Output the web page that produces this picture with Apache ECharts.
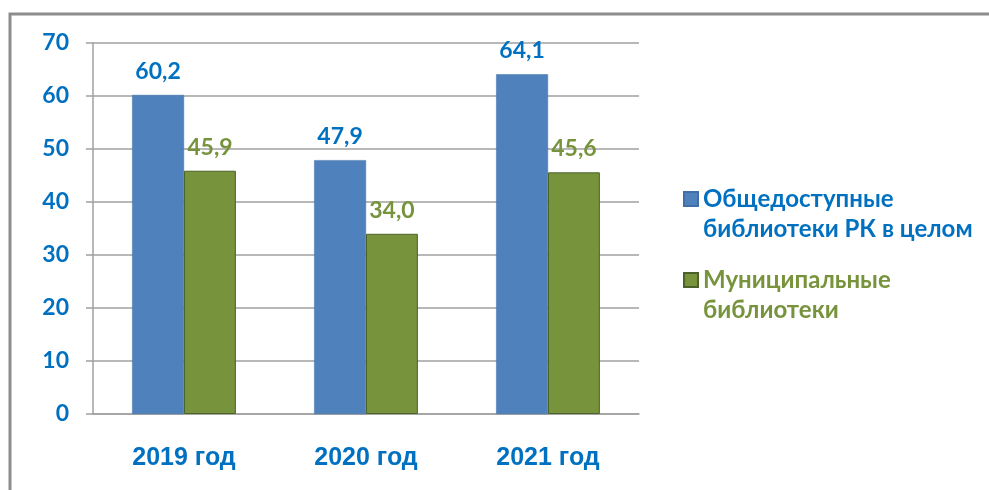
<!DOCTYPE html>
<html>
<head>
<meta charset="utf-8">
<script src="https://cdn.jsdelivr.net/npm/echarts@6/dist/echarts.min.js"></script>
<style>
  html, body { margin: 0; padding: 0; background: #fff; }
  #chart { width: 989px; height: 490px; }
</style>
</head>
<body>
<div id="chart"></div>
<script>
const categories = ['2019 год', '2020 год', '2021 год']
const publicLibs = [60.2, 47.9, 64.1]
const municipalLibs = [45.9, 34.0, 45.6]
const seriesNames = ['Общедоступные библиотеки РК в целом', 'Муниципальные библиотеки']
const legendLabels = ['Общедоступные\nбиблиотеки РК в целом', 'Муниципальные\nбиблиотеки']

const BLUE = '#4F81BD'
const GREEN = '#77933C'
const BLUE_TEXT = '#0070C0'
const GRAY = '#A0A0A0'
const LABEL_FONT = 'Lato, "Open Sans", sans-serif'

const fmt = (v) => v.toFixed(1).replace('.', ',')

const chart = echarts.init(document.getElementById('chart'))

// empty first line keeps the icon level with the first text line
const legendText = (color) => ({
  color,
  fontSize: 24,
  fontWeight: 'bold',
  fontFamily: LABEL_FONT,
  lineHeight: 30,
})

chart.setOption({
  animation: false,
  graphic: [{
    type: 'polyline',
    shape: { points: [[10, 490], [10, 14], [989, 14]] },
    style: { stroke: '#8C8C8C', lineWidth: 3, fill: null },
  }],
  grid: { left: 93, right: 350, top: 43, bottom: 76 },
  legend: [
    {
      orient: 'vertical', left: 683, top: 154, padding: 0,
      itemWidth: 14, itemHeight: 14, icon: 'rect',
      data: [seriesNames[0]],
      formatter: () => ' \n' + legendLabels[0],
      textStyle: legendText(BLUE_TEXT),
    },
    {
      orient: 'vertical', left: 683, top: 235, padding: 0,
      itemWidth: 14, itemHeight: 14, icon: 'rect',
      data: [seriesNames[1]],
      formatter: () => ' \n' + legendLabels[1],
      textStyle: legendText(GREEN),
    },
  ],
  xAxis: {
    type: 'category',
    data: categories,
    axisLine: { lineStyle: { color: GRAY, width: 1.5 } },
    axisTick: { length: 7, lineStyle: { color: GRAY, width: 1.5 } },
    axisLabel: {
      color: BLUE_TEXT,
      fontSize: 25,
      fontWeight: 'bold',
      fontFamily: '"Liberation Sans", Arial, sans-serif',
      margin: 32,
    },
  },
  yAxis: {
    type: 'value',
    min: 0,
    max: 70,
    interval: 10,
    axisLine: { show: true, lineStyle: { color: GRAY, width: 1.5 } },
    axisTick: { show: true, length: 7, lineStyle: { color: GRAY, width: 1.5 } },
    splitLine: { lineStyle: { color: GRAY, width: 1.5 } },
    axisLabel: {
      color: BLUE_TEXT,
      fontSize: 23,
      fontWeight: 'bold',
      fontFamily: LABEL_FONT,
      margin: 24,
    },
  },
  series: [
    {
      name: seriesNames[0],
      type: 'bar',
      data: publicLibs,
      barGap: '0%',
      barCategoryGap: '43%',
      itemStyle: { color: BLUE, borderColor: '#3F6FA8', borderWidth: 0.5 },
      label: {
        show: true,
        position: 'top',
        distance: 12,
        formatter: (p) => fmt(p.value),
        color: BLUE_TEXT,
        fontSize: 23,
        fontWeight: 'bold',
        fontFamily: LABEL_FONT,
      },
    },
    {
      name: seriesNames[1],
      type: 'bar',
      data: municipalLibs,
      itemStyle: { color: GREEN, borderColor: '#4A6328', borderWidth: 1 },
      label: {
        show: true,
        position: 'top',
        distance: 12,
        formatter: (p) => fmt(p.value),
        color: GREEN,
        fontSize: 23,
        fontWeight: 'bold',
        fontFamily: LABEL_FONT,
      },
    },
  ],
})
</script>
</body>
</html>
